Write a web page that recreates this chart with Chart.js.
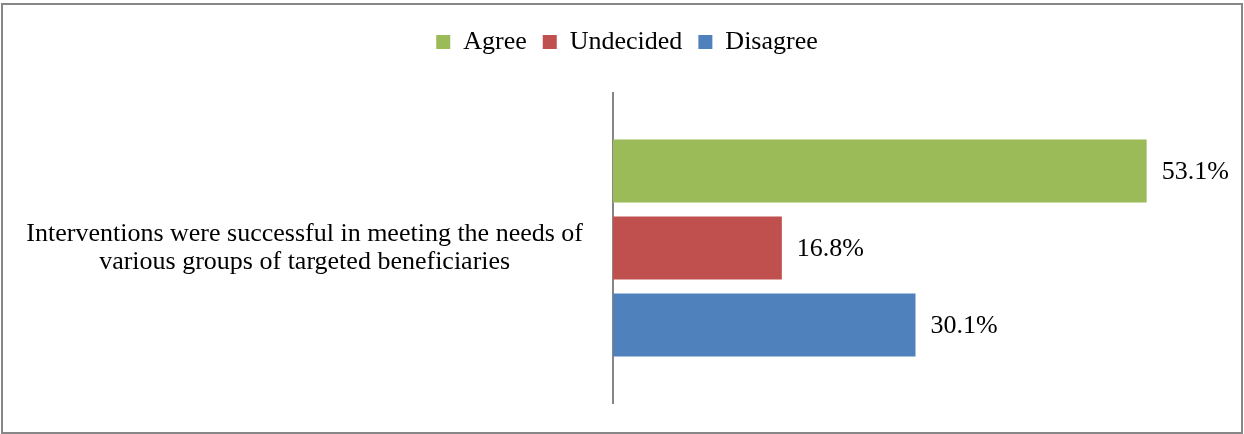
<!DOCTYPE html>
<html>
<head>
<meta charset="utf-8">
<script src="https://cdn.jsdelivr.net/npm/chart.js@4.4.1/dist/chart.umd.min.js"></script>
<style>
  html, body { margin: 0; padding: 0; background: #fff; }
  #wrap { position: relative; width: 1244px; height: 434px; }
  #frame {
    position: absolute; left: 1px; top: 3px; width: 1242px; height: 431px;
    border: 2px solid #878787; box-sizing: border-box; pointer-events: none;
  }
  canvas { position: absolute; left: 0; top: 0; }
</style>
</head>
<body>
<div id="wrap">
  <canvas id="surveyChart" width="1244" height="434"></canvas>
  <div id="frame"></div>
</div>
<script>
// survey data
const categories = [["Interventions were successful in meeting the needs of", "various groups of targeted beneficiaries"]];
const seriesNames = ["Agree", "Undecided", "Disagree"];
const agreeValues = [53.1];
const undecidedValues = [16.8];
const disagreeValues = [30.1];
const seriesColors = ["#9BBB59", "#C0504D", "#4F81BD"];

const serif = "'Liberation Serif', 'Times New Roman', serif";
const padTop = 13;

// fixed legend band so the plot starts at y=93, row nudged right a little
const legendGap = {
  id: "legendGap",
  beforeInit(chart) {
    const fit = chart.legend.fit;
    chart.legend.fit = function () {
      fit.bind(chart.legend)();
      this.height = 93 - padTop;
      if (this.lineWidths) this.lineWidths = this.lineWidths.map(w => w - 38);
    };
  }
};

// percentage labels right of each bar
const barLabels = {
  id: "barLabels",
  afterDatasetsDraw(chart) {
    const ctx = chart.ctx;
    ctx.save();
    ctx.font = "26px " + serif;
    ctx.fillStyle = "#000";
    ctx.textAlign = "left";
    ctx.textBaseline = "middle";
    chart.data.datasets.forEach((ds, i) => {
      chart.getDatasetMeta(i).data.forEach((bar, j) => {
        ctx.fillText(ds.data[j].toFixed(1) + "%", bar.x + 15, bar.y + 1);
      });
    });
    ctx.restore();
  }
};

const allValues = [agreeValues, undecidedValues, disagreeValues];

new Chart(document.getElementById("surveyChart"), {
  type: "bar",
  data: {
    labels: categories,
    datasets: seriesNames.map((name, i) => ({
      label: name,
      data: allValues[i],
      backgroundColor: seriesColors[i],
      borderWidth: 0,
      categoryPercentage: 0.745,
      barPercentage: 0.818
    }))
  },
  options: {
    indexAxis: "y",
    responsive: false,
    animation: false,
    layout: { padding: { top: padTop, bottom: 31, left: 0, right: 28 } },
    scales: {
      x: { display: false, min: 0, max: 60 },
      y: {
        grid: { display: false, drawTicks: false },
        border: { display: true, color: "#868686", width: 2 },
        ticks: {
          crossAlign: "center",
          padding: 30,
          color: "#000",
          font: { family: serif, size: 26, lineHeight: 1.08 }
        },
        afterFit(scale) {
          scale.width = 613;
          scale.paddingTop = 0;
          scale.paddingBottom = 0;
        }
      }
    },
    plugins: {
      legend: {
        position: "top",
        labels: {
          boxWidth: 14,
          boxHeight: 14,
          padding: 16,
          color: "#000",
          font: { family: serif, size: 26 }
        }
      },
      tooltip: { enabled: false }
    }
  },
  plugins: [legendGap, barLabels]
});
</script>
</body>
</html>
